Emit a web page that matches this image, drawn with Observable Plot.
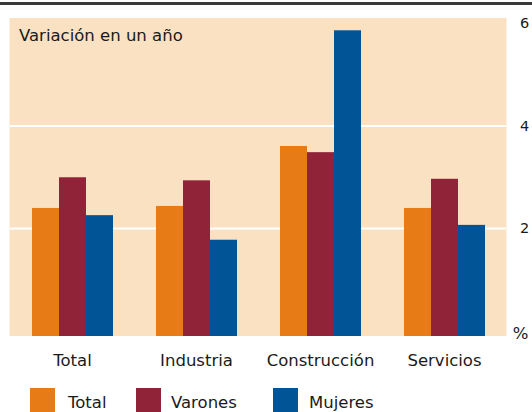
<!DOCTYPE html>
<html>
<head>
<meta charset="utf-8">
<script src="https://cdn.jsdelivr.net/npm/d3@7"></script>
<script src="https://cdn.jsdelivr.net/npm/@observablehq/plot@0.6"></script>
<style>
  html, body { margin: 0; padding: 0; background: #fff; }
  #wrap { position: relative; width: 532px; height: 412px; overflow: hidden; font-family: "DejaVu Sans", sans-serif; color: #1a1a1a; }
  #rule { position: absolute; left: 0; top: 2px; width: 532px; height: 3px; background: #3a3a3a; }
  #chart { position: absolute; left: 0; top: 0; }
  #title { position: absolute; left: 19px; top: 28px; font-size: 16.5px; line-height: 16px; white-space: nowrap; }
  #legend { position: absolute; left: 0; top: 388px; width: 532px; height: 24px; }
  .sw { position: absolute; top: 0; width: 25px; height: 24px; }
  .lt { position: absolute; top: 7px; font-size: 16.5px; line-height: 16px; white-space: nowrap; }
</style>
</head>
<body>
<div id="wrap">
  <div id="chart"></div>
  <div id="rule"></div>
  <div id="title"></div>
  <div id="legend"></div>
</div>
<script>
// ---- data ----
const categories = ["Total", "Industria", "Construcción", "Servicios"];
const seriesNames = ["Total", "Varones", "Mujeres"];
const totalValues = [2.39, 2.43, 3.60, 2.39];
const varonesValues = [2.99, 2.93, 3.48, 2.96];
const mujeresValues = [2.25, 1.77, 5.86, 2.06];
const yTickLabels = [2, 4, 6];
const yGridValues = [2, 4];
const unitLabel = "%";
const titleText = "Variación en un año";

// ---- styles ----
const seriesColors = ["#e77b15", "#912339", "#015597"];
const bgColor = "#f9e1c2";
const yDomain = [-0.11, 6.1];

const valuesBySeries = [totalValues, varonesValues, mujeresValues];
const data = [];
categories.forEach((c, i) => {
  seriesNames.forEach((s, j) => {
    data.push({category: c, series: s, value: valuesBySeries[j][i]});
  });
});

const chart = Plot.plot({
  width: 532,
  height: 380,
  marginLeft: 10,
  marginRight: 26,
  marginTop: 18,
  marginBottom: 44,
  style: {fontFamily: "'DejaVu Sans', sans-serif", fontSize: "16.5px", color: "#1a1a1a", background: "transparent"},
  fx: {domain: categories, padding: 0, label: null},
  x: {domain: seriesNames, paddingInner: 0, paddingOuter: 0.74, axis: null},
  y: {domain: yDomain, axis: null},
  color: {domain: seriesNames, range: seriesColors},
  marks: [
    Plot.barY(categories, {fx: (d) => d, y1: yDomain[0], y2: yDomain[1], fill: bgColor, insetLeft: -0.5, insetRight: -0.5}),
    Plot.ruleY(yGridValues, {stroke: "white", strokeWidth: 2}),
    Plot.barY(data, {fx: "category", x: "series", y1: yDomain[0], y2: "value", fill: "series"}),
    Plot.axisFx({anchor: "bottom", tickSize: 0, tickPadding: 18, fontSize: 16.5, label: null}),
    Plot.axisY(yTickLabels, {anchor: "right", tickSize: 0, tickPadding: 18, textAnchor: "middle", fontSize: 14.5, tickFormat: (d) => String(d), label: null}),
    Plot.axisY([0], {anchor: "right", tickSize: 0, tickPadding: 14, textAnchor: "middle", fontSize: 16.5, dy: 3, tickFormat: () => unitLabel, label: null})
  ]
});
document.getElementById("chart").appendChild(chart);
document.getElementById("title").textContent = titleText;

// legend
const legend = document.getElementById("legend");
const swX = [30, 136, 273];
const txX = [68, 171, 309];
seriesNames.forEach((s, i) => {
  const sw = document.createElement("div");
  sw.className = "sw";
  sw.style.left = swX[i] + "px";
  sw.style.background = seriesColors[i];
  legend.appendChild(sw);
  const t = document.createElement("div");
  t.className = "lt";
  t.style.left = txX[i] + "px";
  t.textContent = s;
  legend.appendChild(t);
});
</script>
</body>
</html>
